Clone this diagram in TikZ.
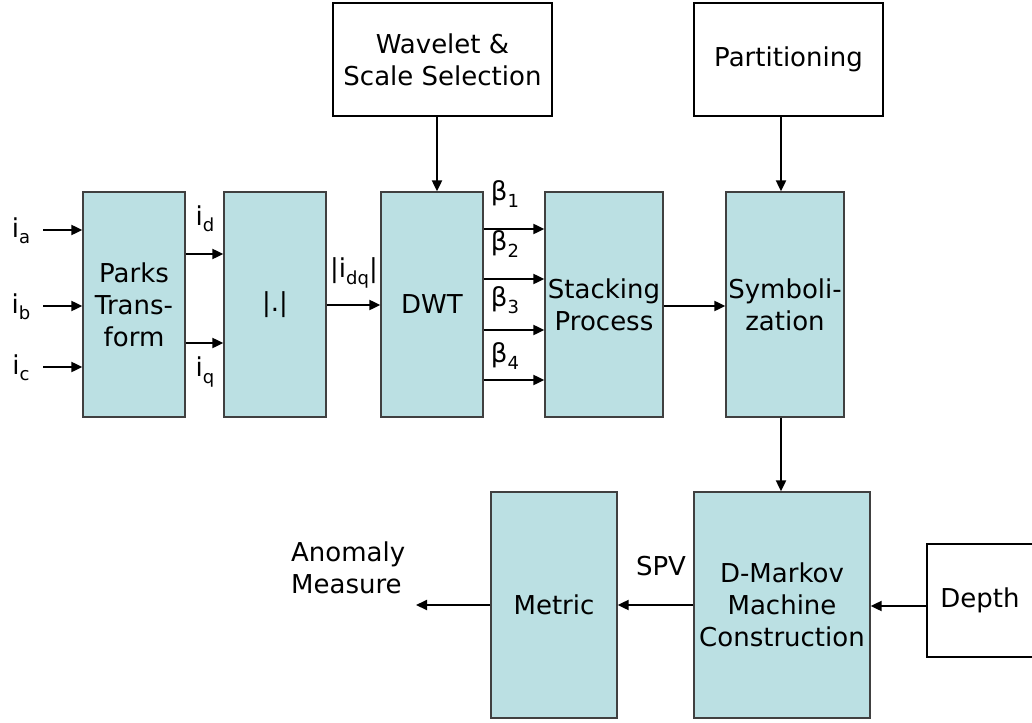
\documentclass[tikz,border=0pt]{standalone}
\usepackage{fontspec}
\setmainfont{DejaVu Sans}
\usetikzlibrary{arrows.meta}
\definecolor{blockfill}{RGB}{187,224,227}
\definecolor{blockedge}{RGB}{64,64,64}
% lowered, smaller index letter
\newcommand\lsub[1]{\raisebox{-0.45ex}{\fontsize{18}{18}\selectfont #1}}

\begin{document}
\begin{tikzpicture}[x=1pt,y=-1pt,
  txt/.style={font=\fontsize{26}{32}\selectfont, inner sep=0pt, align=center},
  block/.style={txt, draw=blockedge, line width=1.3pt, fill=blockfill},
  param/.style={txt, draw=black, line width=1.3pt, fill=white},
  flow/.style={line width=2pt, -{Triangle[length=11pt,width=10pt]}}]
\useasboundingbox (0,0) rectangle (1032,722);

% processing blocks
\node[block, minimum width=102pt, minimum height=225pt] (parks)  at (134,304.5) {Parks\\Trans-\\form};
\node[block, minimum width=102pt, minimum height=225pt] (absb)   at (275,304.5) {|.|};
\node[block, minimum width=102pt, minimum height=225pt] (dwt)    at (432,304.5) {DWT};
\node[block, minimum width=118pt, minimum height=225pt] (stack)  at (604,304.5) {Stacking\\Process};
\node[block, minimum width=118pt, minimum height=225pt] (symb)   at (785,304.5) {Symboli-\\zation};
\node[block, minimum width=126pt, minimum height=226pt] (metric) at (554,605) {Metric};
\node[block, minimum width=176pt, minimum height=226pt] (dmark)  at (782,605) {D-Markov\\Machine\\Construction};

% parameter boxes
\node[param, minimum width=219pt, minimum height=113pt] (wave)  at (442.5,59.5) {Wavelet \&\\Scale Selection};
\node[param, minimum width=189pt, minimum height=113pt] (part)  at (788.5,59.5) {Partitioning};
\node[param, minimum width=106pt, minimum height=113pt] (depth) at (980,600.5) {Depth};

% three-phase current inputs
\coordinate (ina) at (43,230);
\coordinate (inb) at (43,306);
\coordinate (inc) at (43,367);
\node[txt] (la) at (21,231) {i\lsub{a}};
\node[txt] (lb) at (21,307) {i\lsub{b}};
\node[txt] (lc) at (21,368) {i\lsub{c}};
\draw[flow] (ina) -- (parks.west |- ina);
\draw[flow] (inb) -- (parks.west |- inb);
\draw[flow] (inc) -- (parks.west |- inc);

% d-q components
\draw[flow] (parks.east |- 0,254) -- (absb.west |- 0,254);
\draw[flow] (parks.east |- 0,343) -- (absb.west |- 0,343);
\node[txt] (ld) at (205,219) {i\lsub{d}};
\node[txt] (lq) at (205,372) {i\lsub{q}};

% magnitude into the wavelet transform
\draw[flow] (absb.east |- 0,305) -- (dwt.west |- 0,305);
\node[txt] (ldq) at (354,273) {|i\lsub{dq}|};

% wavelet coefficients at four scales
\draw[flow] (dwt.east |- 0,229) -- (stack.west |- 0,229);
\draw[flow] (dwt.east |- 0,279) -- (stack.west |- 0,279);
\draw[flow] (dwt.east |- 0,330) -- (stack.west |- 0,330);
\draw[flow] (dwt.east |- 0,380) -- (stack.west |- 0,380);
\node[txt] (b1) at (505,194) {β\lsub{1}};
\node[txt] (b2) at (505,244) {β\lsub{2}};
\node[txt] (b3) at (505,300) {β\lsub{3}};
\node[txt] (b4) at (505,356) {β\lsub{4}};

% main chain
\draw[flow] (stack.east |- 0,306) -- (symb.west |- 0,306);
\draw[flow] (wave.south -| 437,0) -- (dwt.north -| 437,0);
\draw[flow] (part.south -| 781,0) -- (symb.north -| 781,0);
\draw[flow] (symb.south -| 781,0) -- (dmark.north -| 781,0);
\draw[flow] (depth.west |- 0,606) -- (dmark.east |- 0,606);
\draw[flow] (dmark.west |- 0,605) -- (metric.east |- 0,605);
\node[txt] (spv) at (661,566) {SPV};

% output
\coordinate (out) at (416,605);
\draw[flow] (metric.west |- out) -- (out);
\node[txt, align=left, anchor=west] (anom) at (291,568) {Anomaly\\Measure};
\end{tikzpicture}
\end{document}
